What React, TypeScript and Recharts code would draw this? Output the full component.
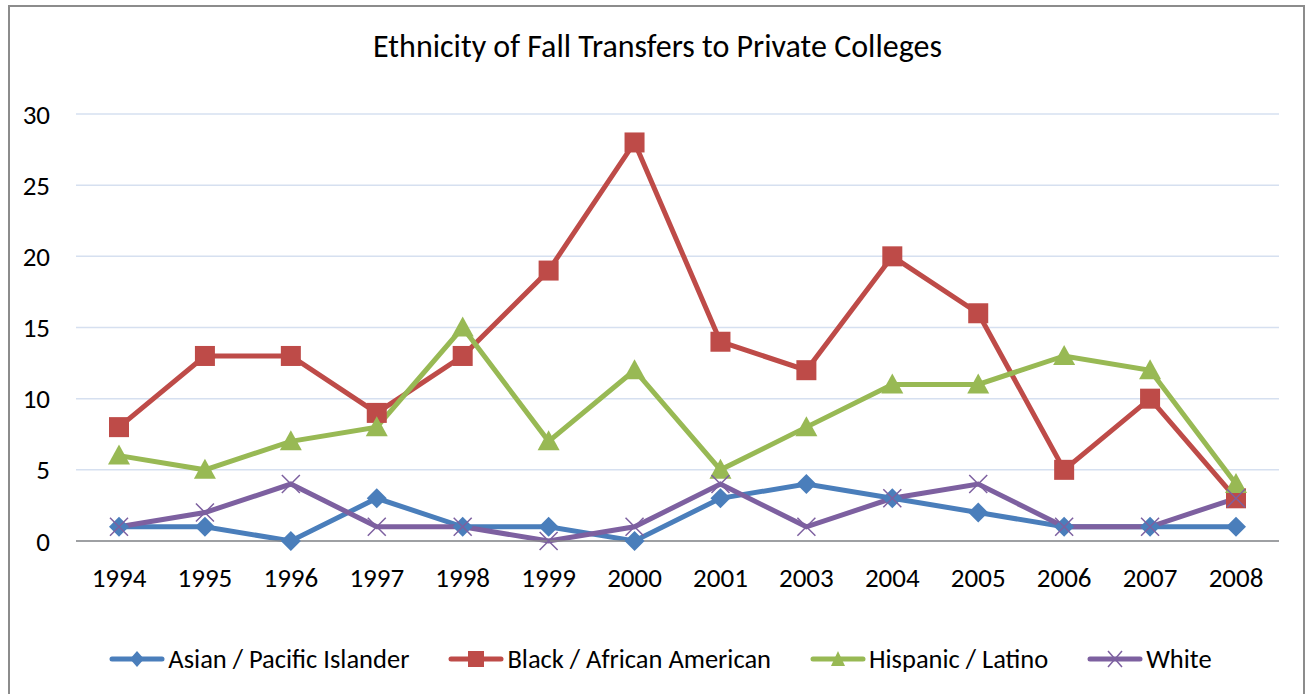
import React from "react";
import { LineChart, Line, XAxis, YAxis, CartesianGrid, Legend } from "recharts";

const years = ["1994","1995","1996","1997","1998","1999","2000","2001","2003","2004","2005","2006","2007","2008"];
const asian = [1,1,0,3,1,1,0,3,4,3,2,1,1,1];
const black = [8,13,13,9,13,19,28,14,12,20,16,5,10,3];
const hispanic = [6,5,7,8,15,7,12,5,8,11,11,13,12,4];
const white = [1,2,4,1,1,0,1,4,1,3,4,1,1,3];
const yTicks = [0,5,10,15,20,25,30];

const data = years.map((y, i) => ({ year: y, asian: asian[i], black: black[i], hispanic: hispanic[i], white: white[i] }));

const FONT = "Carlito, 'Open Sans', 'Liberation Sans', sans-serif";

const C = { asian: "#4A7EBB", black: "#BE4B48", hispanic: "#98B954", white: "#7D60A0" };

const Diamond = (p: any) => { const { cx, cy } = p; if (cx == null) return null; const s = 10; return <path key={p.index} d={`M${cx},${cy - s}L${cx + s},${cy}L${cx},${cy + s}L${cx - s},${cy}Z`} fill={C.asian} />; };
const Square = (p: any) => { const { cx, cy } = p; if (cx == null) return null; const s = 10; return <rect key={p.index} x={cx - s} y={cy - s} width={2 * s} height={2 * s} fill={C.black} />; };
const Tri = (p: any) => { const { cx, cy } = p; if (cx == null) return null; const s = 11; return <path key={p.index} d={`M${cx},${cy - s}L${cx + s},${cy + 9}L${cx - s},${cy + 9}Z`} fill={C.hispanic} />; };
const Cross = (p: any) => { const { cx, cy } = p; if (cx == null) return null; const s = 9; return <path key={p.index} d={`M${cx - s},${cy - s}L${cx + s},${cy + s}M${cx + s},${cy - s}L${cx - s},${cy + s}`} stroke={C.white} strokeWidth={1.5} fill="none" />; };

const legendItems = [
  { name: "Asian / Pacific Islander", color: C.asian, kind: "d" },
  { name: "Black / African American", color: C.black, kind: "s" },
  { name: "Hispanic / Latino", color: C.hispanic, kind: "t" },
  { name: "White", color: C.white, kind: "x" },
];

const Icon = ({ kind, color }: any) => {
  const cx = 28, cy = 12;
  let m: any = null;
  if (kind === "d") m = <path d={`M${cx},${cy - 8}L${cx + 7},${cy}L${cx},${cy + 8}L${cx - 7},${cy}Z`} fill={color} />;
  if (kind === "s") m = <rect x={cx - 8} y={cy - 8} width={16} height={16} fill={color} />;
  if (kind === "t") m = <path d={`M${cx},${cy - 8}L${cx + 7},${cy + 7}L${cx - 7},${cy + 7}Z`} fill={color} />;
  if (kind === "x") m = <path d={`M${cx - 7},${cy - 8}L${cx + 7},${cy + 8}M${cx + 7},${cy - 8}L${cx - 7},${cy + 8}`} stroke={color} strokeWidth={1.5} />;
  return (
    <svg width={56} height={24} style={{ display: "block" }}>
      <line x1={3} y1={cy} x2={53} y2={cy} stroke={color} strokeWidth={5} strokeLinecap="round" />
      {m}
    </svg>
  );
};

const renderLegend = () => (
  <div style={{ display: "flex", justifyContent: "center", alignItems: "center", height: 30, fontFamily: FONT, fontSize: 26.5, color: "#000", paddingLeft: 26, boxSizing: "border-box" }}>
    {legendItems.map((it, i) => (
      <div key={i} style={{ display: "flex", alignItems: "center", marginLeft: i === 0 ? 0 : 39 }}>
        <Icon kind={it.kind} color={it.color} />
        <span style={{ marginLeft: 3, lineHeight: "30px" }}>{it.name}</span>
      </div>
    ))}
  </div>
);

export default function App() {
  return (
    <div style={{ position: "absolute", left: 0, top: 0, width: 1307, height: 694, background: "#fff", overflow: "hidden" }}>
      <div style={{ position: "absolute", left: 8, top: 5, width: 1297, height: 700, border: "2px solid #8C8C8C", boxSizing: "border-box" }} />
      <div style={{ position: "absolute", left: 0, top: 27, width: 1307, paddingLeft: 8, boxSizing: "border-box", textAlign: "center", fontFamily: FONT, fontSize: 32, color: "#000", lineHeight: "40px" }}>
        Ethnicity of Fall Transfers to Private Colleges
      </div>
      <div style={{ position: "absolute", left: 0, top: 0 }}>
        <LineChart width={1307} height={694} data={data} margin={{ top: 114, right: 28, left: 16, bottom: 83 }}>
          <CartesianGrid vertical={false} stroke="#D6E0F0" strokeWidth={1.5} />
          <XAxis dataKey="year" height={40} tickLine={false} axisLine={{ stroke: "#898989", strokeWidth: 1.5 }}
            padding={{ left: 43, right: 43 }}
            tick={{ fill: "#000", fontSize: 27, fontFamily: FONT }} tickMargin={21} interval={0} />
          <YAxis width={60} domain={[0, 30]} ticks={yTicks} tickLine={false} axisLine={false}
            tick={{ fill: "#000", fontSize: 27, fontFamily: FONT }} tickMargin={20} />
          <Legend verticalAlign="bottom" content={renderLegend} wrapperStyle={{ bottom: 20 }} />
          <Line dataKey="asian" name="Asian / Pacific Islander" stroke={C.asian} strokeWidth={5} dot={Diamond} isAnimationActive={false} />
          <Line dataKey="black" name="Black / African American" stroke={C.black} strokeWidth={5} dot={Square} isAnimationActive={false} />
          <Line dataKey="hispanic" name="Hispanic / Latino" stroke={C.hispanic} strokeWidth={5} dot={Tri} isAnimationActive={false} />
          <Line dataKey="white" name="White" stroke={C.white} strokeWidth={5} dot={Cross} isAnimationActive={false} />
        </LineChart>
      </div>
    </div>
  );
}
